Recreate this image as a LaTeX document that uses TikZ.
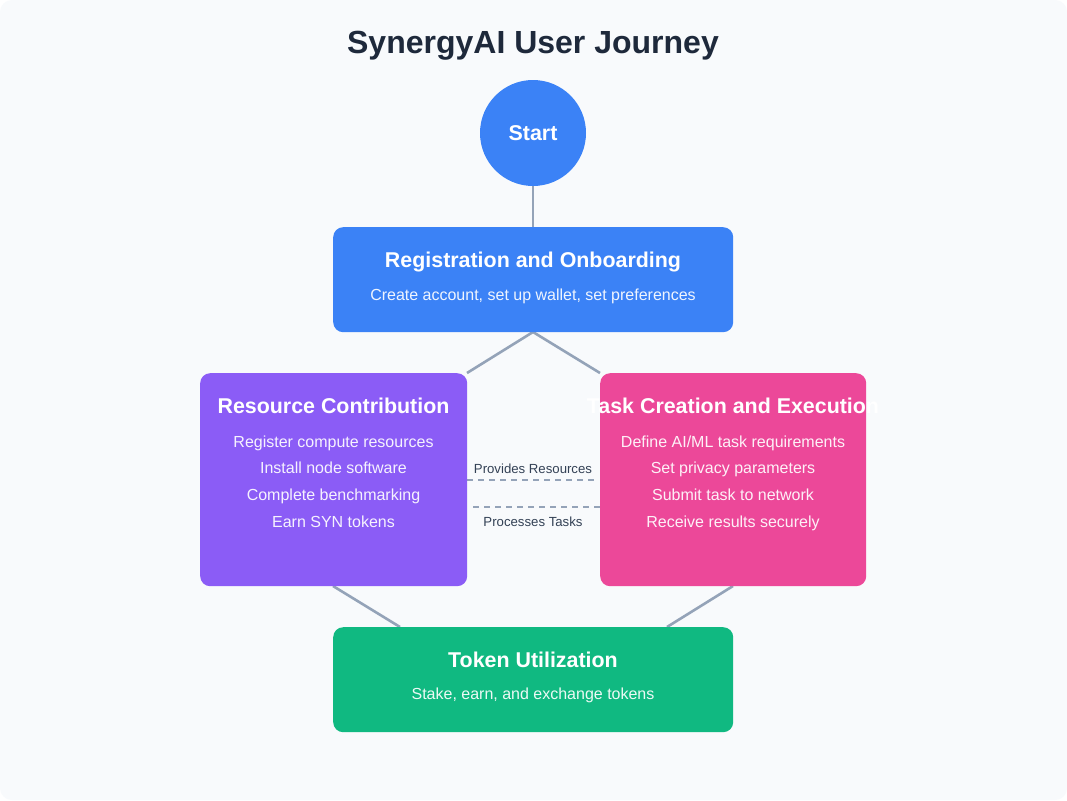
\documentclass[tikz,border=0pt]{standalone}
\usepackage{fontspec}
\setmainfont{Liberation Sans}
\definecolor{bgc}{HTML}{F8FAFC}
\definecolor{titlec}{HTML}{1E293B}
\definecolor{labelc}{HTML}{334155}
\definecolor{linec}{HTML}{94A3B8}
\definecolor{blue}{HTML}{3B82F6}
\definecolor{purple}{HTML}{8B5CF6}
\definecolor{pink}{HTML}{EC4899}
\definecolor{green}{HTML}{10B981}
\begin{document}
\begin{tikzpicture}[x=1pt,y=-1pt,
  card/.style={draw=none,rounded corners=10pt,inner sep=0pt,anchor=north west},
  btitle/.style={anchor=base,text=white,font=\fontsize{21.4}{25}\selectfont\bfseries,inner sep=0pt},
  bsub/.style={anchor=base,text=white,text opacity=0.92,font=\fontsize{16}{19}\selectfont,inner sep=0pt},
  conn/.style={draw=linec,line width=2.6pt},
  dconn/.style={draw=linec,line width=2.6pt,dash pattern=on 6pt off 5pt},
  lbl/.style={anchor=base,text=labelc,font=\fontsize{13.2}{15}\selectfont,inner sep=0pt}]
\useasboundingbox (0,0) rectangle (1067,800);
\fill[white] (0,0) rectangle (1067,800);
\fill[bgc,rounded corners=12pt] (0,0) rectangle (1067,800);

\node[anchor=base,text=titlec,font=\fontsize{32}{38}\selectfont\bfseries,inner sep=0pt] (title) at (533,53) {SynergyAI User Journey};

% connectors
\coordinate (tokA) at (400,627);
\coordinate (tokB) at (667,627);
\coordinate (regS) at (533,332);
\coordinate (resNE) at (467,373);
\coordinate (taskNW) at (600,373);
\coordinate (resS) at (333,586);
\coordinate (taskS) at (733,586);
\coordinate (startS) at (533,186);
\coordinate (regN) at (533,227);
\draw[conn] (startS) -- (regN);
\draw[conn] (regS) -- (resNE);
\draw[conn] (regS) -- (taskNW);
\draw[conn] (resS) -- (tokA);
\draw[conn] (taskS) -- (tokB);

\coordinate (d1a) at (467,480);
\coordinate (d1b) at (596,480);
\coordinate (d2a) at (473,507);
\coordinate (d2b) at (600,507);
\draw[dconn] (d1a) -- (d1b);
\draw[dconn] (d2a) -- (d2b);
\node[lbl] (provides) at (533,473) {Provides Resources};
\node[lbl] (processes) at (533,526) {Processes Tasks};

% start
\node[circle,fill=blue,minimum size=106pt,inner sep=0pt] (start) at (533,133) {};
\node[anchor=base,text=white,font=\fontsize{21.4}{25}\selectfont\bfseries,inner sep=0pt] (starttxt) at (533,140) {Start};

% registration
\node[card,fill=blue,minimum width=400pt,minimum height=105pt] (reg) at (333,227) {};
\node[btitle] (regT) at (533,267) {Registration and Onboarding};
\node[bsub] (regS1) at (533,300) {Create account, set up wallet, set preferences};

% resource
\node[card,fill=purple,minimum width=267pt,minimum height=213pt] (res) at (200,373) {};
\node[btitle] (resT) at (333.5,413) {Resource Contribution};
\node[bsub] (res1) at (333.5,447) {Register compute resources};
\node[bsub] (res2) at (333.5,473) {Install node software};
\node[bsub] (res3) at (333.5,500) {Complete benchmarking};
\node[bsub] (res4) at (333.5,527) {Earn SYN tokens};

% task
\node[card,fill=pink,minimum width=266pt,minimum height=213pt] (task) at (600,373) {};
\node[btitle] (taskT) at (733,413) {Task Creation and Execution};
\node[bsub] (task1) at (733,447) {Define AI/ML task requirements};
\node[bsub] (task2) at (733,473) {Set privacy parameters};
\node[bsub] (task3) at (733,500) {Submit task to network};
\node[bsub] (task4) at (733,527) {Receive results securely};

% token
\node[card,fill=green,minimum width=400pt,minimum height=105pt] (tok) at (333,627) {};
\node[btitle] (tokT) at (533,667) {Token Utilization};
\node[bsub] (tok1) at (533,699) {Stake, earn, and exchange tokens};
\end{tikzpicture}
\end{document}
